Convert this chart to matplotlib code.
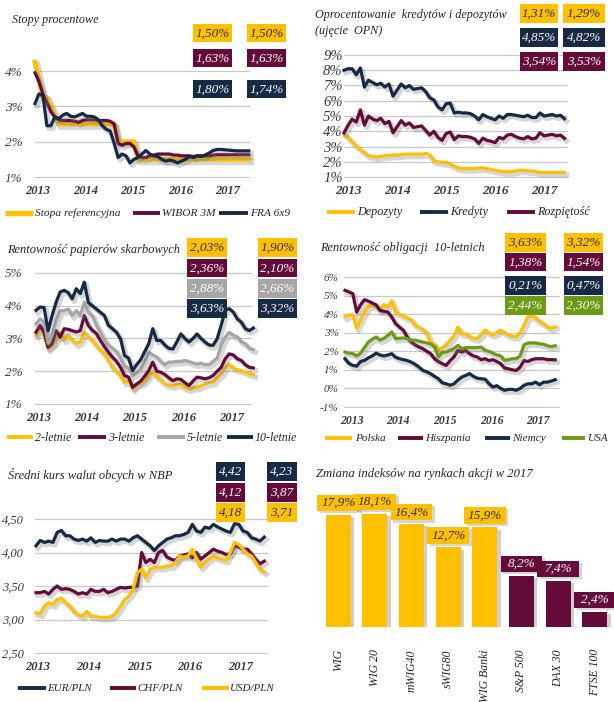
import matplotlib
matplotlib.use('Agg')
import matplotlib.pyplot as plt
import matplotlib.patheffects as pe
from matplotlib.patches import Rectangle
from matplotlib.lines import Line2D
import numpy as np

plt.rcParams['font.family'] = ['Liberation Serif', 'DejaVu Serif']
plt.rcParams['font.style'] = 'italic'
plt.rcParams['axes.unicode_minus'] = False

# ---------------- DATA (monthly, Jan 2013 .. Jul 2017) ----------------
years = ['2013', '2014', '2015', '2016', '2017']

# Panel 1: Stopy procentowe
stopa_ref = [4.25, 3.75, 3.25, 3.25, 3.00, 2.75, 2.50, 2.50, 2.50, 2.50, 2.50, 2.50,
             2.50, 2.50, 2.50, 2.50, 2.50, 2.50, 2.50, 2.50, 2.50, 2.00, 2.00, 2.00,
             2.00, 2.00, 1.50, 1.50, 1.50, 1.50, 1.50, 1.50, 1.50, 1.50, 1.50, 1.50,
             1.50, 1.50, 1.50, 1.50, 1.50, 1.50, 1.50, 1.50, 1.50, 1.50, 1.50, 1.50,
             1.50, 1.50, 1.50, 1.50, 1.50, 1.50, 1.50]
wibor3m = [3.95, 3.70, 3.35, 3.10, 2.85, 2.70, 2.62, 2.60, 2.60, 2.60, 2.58, 2.55,
           2.60, 2.62, 2.62, 2.62, 2.60, 2.60, 2.60, 2.58, 2.50, 1.95, 1.90, 1.95,
           1.95, 1.85, 1.60, 1.55, 1.55, 1.60, 1.62, 1.65, 1.65, 1.65, 1.65, 1.62,
           1.62, 1.60, 1.60, 1.60, 1.58, 1.60, 1.60, 1.60, 1.60, 1.62, 1.63, 1.63,
           1.63, 1.63, 1.63, 1.63, 1.63, 1.63, 1.63]
fra6x9 = [3.08, 3.35, 3.30, 2.45, 2.45, 2.70, 2.65, 2.75, 2.80, 2.72, 2.70, 2.75,
          2.80, 2.72, 2.72, 2.70, 2.62, 2.45, 2.35, 2.30, 1.95, 1.55, 1.65, 1.60,
          1.40, 1.50, 1.55, 1.65, 1.75, 1.65, 1.60, 1.58, 1.50, 1.45, 1.48, 1.45,
          1.40, 1.45, 1.50, 1.58, 1.55, 1.60, 1.58, 1.62, 1.68, 1.75, 1.78, 1.78,
          1.77, 1.76, 1.75, 1.74, 1.74, 1.74, 1.74]
p1_boxes = [['1,50%', '1,50%'], ['1,63%', '1,63%'], ['1,80%', '1,74%']]

# Panel 2: Oprocentowanie kredytow i depozytow
depozyty = [3.85, 3.60, 3.30, 3.05, 2.80, 2.60, 2.40, 2.35, 2.30, 2.35, 2.40, 2.40,
            2.45, 2.45, 2.45, 2.50, 2.50, 2.50, 2.50, 2.50, 2.55, 2.45, 2.05, 2.00,
            1.95, 1.95, 1.85, 1.70, 1.60, 1.55, 1.55, 1.55, 1.55, 1.60, 1.60, 1.55,
            1.50, 1.45, 1.40, 1.35, 1.35, 1.35, 1.40, 1.45, 1.45, 1.40, 1.40, 1.35,
            1.30, 1.30, 1.30, 1.30, 1.30, 1.30, 1.29]
kredyty = [8.00, 8.10, 8.10, 7.70, 8.15, 6.90, 7.35, 7.20, 7.05, 7.15, 6.90, 7.10,
           6.30, 6.70, 7.10, 6.85, 7.00, 6.75, 6.80, 6.85, 6.60, 6.20, 6.05, 5.60,
           5.40, 5.80, 5.85, 5.20, 5.25, 5.20, 5.20, 5.15, 5.00, 4.75, 5.10, 4.95,
           4.85, 4.75, 5.00, 4.85, 5.10, 5.10, 5.05, 5.00, 4.95, 5.05, 4.90, 4.90,
           5.20, 5.00, 5.05, 5.10, 5.00, 5.05, 4.82]
rozpietosc = [3.90, 4.40, 4.80, 4.60, 5.40, 4.40, 5.00, 4.80, 4.70, 4.85, 4.50, 4.65,
              3.90, 4.30, 4.70, 4.40, 4.55, 4.25, 4.30, 4.35, 4.05, 3.75, 4.00, 3.60,
              3.40, 3.85, 3.95, 3.45, 3.70, 3.65, 3.65, 3.60, 3.50, 3.20, 3.55, 3.40,
              3.35, 3.25, 3.60, 3.50, 3.75, 3.80, 3.65, 3.55, 3.50, 3.65, 3.50, 3.55,
              3.90, 3.70, 3.75, 3.80, 3.70, 3.75, 3.53]
p2_boxes = [['1,31%', '1,29%'], ['4,85%', '4,82%'], ['3,54%', '3,53%']]

# Panel 3: Rentownosc papierow skarbowych
y2 = [3.09, 3.35, 3.10, 2.68, 2.80, 2.94, 3.19, 2.95, 3.10, 2.95, 2.84, 2.90,
      3.19, 3.05, 2.95, 2.79, 2.65, 2.53, 2.33, 2.12, 2.00, 1.87, 1.66, 1.71,
      1.46, 1.60, 1.62, 1.70, 1.87, 1.97, 1.82, 1.75, 1.61, 1.58, 1.56, 1.60,
      1.60, 1.50, 1.46, 1.50, 1.51, 1.56, 1.61, 1.65, 1.66, 1.82, 1.92, 2.12,
      2.22, 2.10, 2.05, 2.02, 1.98, 1.92, 1.90]
y3 = [3.19, 3.40, 3.20, 2.73, 2.84, 3.24, 3.04, 3.30, 3.28, 3.24, 3.20, 3.24,
      3.70, 3.40, 3.25, 3.15, 2.94, 2.75, 2.58, 2.43, 2.30, 2.12, 1.87, 1.82,
      1.51, 1.61, 1.70, 1.85, 2.02, 2.28, 2.00, 1.97, 1.90, 1.80, 1.71, 1.77,
      1.75, 1.65, 1.56, 1.70, 1.82, 1.80, 1.77, 1.80, 1.87, 2.00, 2.12, 2.38,
      2.53, 2.50, 2.38, 2.33, 2.20, 2.12, 2.10]
y5 = [3.45, 3.60, 3.50, 2.85, 3.10, 3.55, 3.85, 3.85, 3.90, 3.70, 3.85, 3.70,
      4.11, 3.80, 3.70, 3.40, 3.20, 2.95, 2.80, 2.70, 2.60, 2.40, 2.15, 2.10,
      1.87, 1.95, 2.05, 2.30, 2.58, 2.50, 2.43, 2.30, 2.20, 2.28, 2.28, 2.30,
      2.30, 2.33, 2.30, 2.25, 2.22, 2.25, 2.20, 2.20, 2.30, 2.40, 2.80, 3.04,
      3.19, 3.10, 3.05, 2.90, 2.84, 2.70, 2.66]
y10 = [3.86, 3.96, 3.95, 3.24, 3.70, 4.11, 4.42, 4.47, 4.40, 4.21, 4.52, 4.37,
       4.72, 4.10, 4.00, 3.90, 3.80, 3.70, 3.40, 3.30, 3.19, 2.99, 2.48, 2.40,
       2.02, 2.20, 2.35, 2.60, 2.84, 3.30, 2.94, 2.94, 2.80, 2.70, 2.68, 2.90,
       3.14, 3.00, 2.89, 3.00, 3.14, 3.00, 2.89, 2.80, 2.79, 2.99, 3.40, 3.86,
       3.91, 3.81, 3.60, 3.50, 3.30, 3.24, 3.32]
p3_boxes = [['2,03%', '1,90%'], ['2,36%', '2,10%'], ['2,88%', '2,66%'], ['3,63%', '3,32%']]

# Panel 4: Rentownosc obligacji 10-letnich
polska = y10
hiszpania = [5.28, 5.20, 5.10, 4.11, 4.50, 4.78, 4.70, 4.60, 4.50, 4.20, 4.15, 4.11,
             3.85, 3.49, 3.30, 3.13, 2.77, 2.50, 2.35, 2.23, 2.14, 2.00, 1.87, 1.60,
             1.45, 1.33, 1.24, 1.50, 1.70, 2.05, 1.96, 2.05, 1.87, 1.75, 1.69, 1.55,
             1.60, 1.50, 1.55, 1.45, 1.33, 1.10, 1.06, 1.00, 0.97, 1.15, 1.50, 1.45,
             1.55, 1.60, 1.60, 1.60, 1.55, 1.55, 1.54]
niemcy = [1.60, 1.35, 1.24, 1.20, 1.45, 1.51, 1.65, 1.75, 1.90, 1.80, 1.75, 1.80,
          1.87, 1.68, 1.60, 1.55, 1.50, 1.42, 1.30, 1.15, 0.97, 0.90, 0.79, 0.65,
          0.52, 0.30, 0.25, 0.17, 0.25, 0.45, 0.61, 0.70, 0.80, 0.65, 0.55, 0.52,
          0.50, 0.25, 0.08, 0.15, 0.00, -0.10, -0.05, -0.05, -0.10, 0.00, 0.17, 0.25,
          0.25, 0.34, 0.20, 0.34, 0.34, 0.40, 0.47]
usa = [1.96, 1.90, 1.87, 1.75, 1.90, 2.20, 2.50, 2.65, 2.77, 2.60, 2.70, 2.85,
       3.04, 2.68, 2.70, 2.72, 2.68, 2.60, 2.60, 2.55, 2.50, 2.45, 2.40, 2.25,
       1.69, 1.95, 1.95, 2.05, 2.15, 2.32, 2.14, 2.20, 2.20, 2.20, 2.20, 2.23,
       2.05, 2.00, 1.90, 1.80, 1.75, 1.51, 1.55, 1.60, 1.60, 1.75, 2.35, 2.45,
       2.45, 2.45, 2.40, 2.38, 2.30, 2.25, 2.30]
p4_boxes = [['3,63%', '3,32%'], ['1,38%', '1,54%'], ['0,21%', '0,47%'], ['2,44%', '2,30%']]

# Panel 5: Sredni kurs walut obcych w NBP
eurpln = [4.10, 4.18, 4.15, 4.17, 4.15, 4.30, 4.33, 4.25, 4.25, 4.20, 4.18, 4.20,
          4.17, 4.22, 4.15, 4.18, 4.17, 4.17, 4.20, 4.17, 4.20, 4.20, 4.17, 4.22,
          4.25, 4.20, 4.15, 4.10, 4.03, 4.10, 4.15, 4.20, 4.22, 4.25, 4.25, 4.27,
          4.30, 4.42, 4.32, 4.30, 4.38, 4.36, 4.42, 4.38, 4.35, 4.32, 4.30, 4.43,
          4.42, 4.32, 4.30, 4.22, 4.20, 4.17, 4.23]
chfpln = [3.40, 3.40, 3.42, 3.38, 3.45, 3.50, 3.45, 3.46, 3.45, 3.42, 3.38, 3.40,
          3.38, 3.45, 3.42, 3.42, 3.45, 3.40, 3.42, 3.45, 3.48, 3.47, 3.48, 3.48,
          3.50, 4.00, 3.85, 3.90, 3.85, 4.00, 4.03, 3.93, 3.90, 3.88, 3.95, 3.96,
          3.98, 3.92, 4.00, 3.90, 3.95, 4.00, 4.05, 4.02, 4.00, 3.97, 3.98, 4.10,
          4.08, 4.05, 4.05, 3.98, 3.90, 3.83, 3.87]
usdpln = [3.10, 3.08, 3.20, 3.25, 3.22, 3.30, 3.32, 3.25, 3.20, 3.12, 3.07, 3.05,
          3.12, 3.05, 3.05, 3.03, 3.03, 3.03, 3.05, 3.10, 3.20, 3.30, 3.35, 3.45,
          3.70, 3.75, 3.62, 3.75, 3.78, 3.78, 3.78, 3.80, 3.80, 3.85, 3.95, 3.93,
          3.95, 4.05, 3.90, 3.78, 3.85, 3.90, 3.95, 3.92, 3.90, 3.88, 4.00, 4.15,
          4.12, 4.05, 3.98, 3.95, 3.85, 3.75, 3.71]
p5_boxes = [['4,42', '4,23'], ['4,12', '3,87'], ['4,18', '3,71']]

# Panel 6: Zmiana indeksow na rynkach akcji w 2017
indeksy = ['WIG', 'WIG 20', 'mWIG40', 'sWIG80', 'WIG Banki', 'S&P 500', 'DAX 30', 'FTSE 100']
zmiana = [17.9, 18.1, 16.4, 12.7, 15.9, 8.2, 7.4, 2.4]
krajowe = [True, True, True, True, True, False, False, False]

# ---------------- STYLE ----------------
YELLOW = '#FFC000'
MAROON = '#650B3A'
NAVY = '#172A45'
GRAY = '#A6A6A6'
GREEN = '#6C9A17'
TXT = '#262626'
TICK = '#3A3A3A'
GRID = '#C8C8C8'

W, H = 614, 702
fig = plt.figure(figsize=(W / 100, H / 100), dpi=100)
fig.patch.set_facecolor('white')

months = 2013 + np.arange(len(stopa_ref)) / 12.0


def axes_px(L, T, R, B):
    return fig.add_axes([L / W, 1 - B / H, (R - L) / W, (B - T) / H])


def shadow(lw):
    return [pe.SimpleLineShadow(offset=(1.5, -1.8), shadow_color='#7a7a7a', alpha=0.3,
                                linewidth=lw + 1.5), pe.Normal()]


def line_panel(L, R, S, ppy, T, B, va, ya, vb, yb, yticks, ylabels, ysize, ypad,
               xsize, tick_off, xpad):
    ax = axes_px(L, T, R, B)
    x0 = 2013 - (S - L) / ppy
    ax.set_xlim(x0, x0 + (R - L) / ppy)
    ppu = (yb - ya) / (va - vb)
    ax.set_ylim(vb - (B - yb) / ppu, va + (ya - T) / ppu)
    ax.set_yticks(yticks, ylabels)
    ax.set_xticks([int(y) + tick_off for y in years], years)
    for s in ax.spines.values():
        s.set_visible(False)
    ax.tick_params(length=0)
    ax.tick_params(axis='y', labelsize=ysize, pad=ypad, labelcolor=TICK)
    ax.tick_params(axis='x', labelsize=xsize, pad=xpad, labelcolor=TICK)
    for t in ax.get_xticklabels():
        t.set_fontweight('bold')
    ax.yaxis.grid(True, color=GRID, lw=0.9)
    ax.set_axisbelow(True)
    ax.patch.set_alpha(0)
    return ax


def plot_series(ax, series, colors, lws):
    for s, c, lw in zip(series, colors, lws):
        ax.plot(months, s, color=c, lw=lw, solid_joinstyle='round',
                path_effects=shadow(lw), clip_on=False)


def boxes(cols_x, widths, rows_y, h, texts, colors, fs=9.5):
    for r, (y, col) in enumerate(zip(rows_y, colors)):
        tc = '#2b2b2b' if col == YELLOW else 'white'
        for c, (x, w) in enumerate(zip(cols_x, widths)):
            rect = Rectangle((x / W, 1 - (y + h) / H), w / W, h / H, transform=fig.transFigure,
                             fc=col, ec='none')
            fig.add_artist(rect)
            fig.text((x + w / 2) / W, 1 - (y + h / 2 + 0.5) / H, texts[r][c], ha='center',
                     va='center', fontsize=fs, color=tc)


def legend(items, labels, colors, lws, y, fs):
    # items: (handle_x0, handle_x1, text_x) in pixels
    for (x0, x1, tx), lab, c, lw in zip(items, labels, colors, lws):
        fig.add_artist(Line2D([x0 / W, x1 / W], [1 - y / H, 1 - y / H],
                              transform=fig.transFigure, color=c, lw=lw,
                              solid_capstyle='butt'))
        fig.text(tx / W, 1 - (y + 0.5) / H, lab, ha='left', va='center', fontsize=fs,
                 color=TXT)


def title(x, y, s, fs=8.9):
    fig.text(x / W, 1 - y / H, s, ha='left', va='center', fontsize=fs, color=TXT)


# ---------------- PANEL 1 ----------------
ax1 = line_panel(35, 250, 35, 47.5, 45, 178, 4, 71, 1, 177, [1, 2, 3, 4],
                 ['1%', '2%', '3%', '4%'], 9.5, 9, 9, 0.06, 5)
plot_series(ax1, [stopa_ref, wibor3m, fra6x9], [YELLOW, MAROON, NAVY], [3.4, 2.3, 2.3])
title(12, 20, 'Stopy procentowe', 8.7)
boxes([193, 247], [39, 39], [24, 49, 80], 18, p1_boxes, [YELLOW, MAROON, NAVY])
legend([(5, 33, 35), (133, 160, 162), (219, 248, 250)],
       ['Stopa referencyjna', 'WIBOR 3M', 'FRA 6x9'], [YELLOW, MAROON, NAVY],
       [3.8, 2.8, 2.8], 213, 8.2)

# ---------------- PANEL 2 ----------------
ax2 = line_panel(344, 568, 344, 49, 50, 178, 9, 55, 1, 177, list(range(1, 10)),
                 ['%d%%' % v for v in range(1, 10)], 10.5, 1, 9.5, 0.08, 5)
plot_series(ax2, [depozyty, kredyty, rozpietosc], [YELLOW, NAVY, MAROON], [2.3, 2.3, 2.3])
title(315, 15, 'Oprocentowanie  kredytów i depozytów', 8.7)
title(315, 31, '(ujęcie  OPN)', 8.7)
boxes([520, 563], [38, 42], [4, 28, 52], 18.5, p2_boxes, [YELLOW, NAVY, MAROON])
legend([(327, 355, 357), (420, 448, 450), (507, 535, 537)],
       ['Depozyty', 'Kredyty', 'Rozpiętość'], [YELLOW, NAVY, MAROON],
       [2.8, 2.8, 2.8], 212, 8.7)

# ---------------- PANEL 3 ----------------
ax3 = line_panel(35, 252, 36, 48.3, 265, 405, 5, 273, 1, 404, [1, 2, 3, 4, 5],
                 ['1%', '2%', '3%', '4%', '5%'], 9.5, 9, 9, 0.05, 5)
plot_series(ax3, [y2, y3, y5, y10], [YELLOW, MAROON, GRAY, NAVY], [2.3, 2.3, 2.3, 2.3])
title(7, 250, 'Rentowność papierów skarbowych')
boxes([187, 258], [40, 39], [238, 259, 279, 299], 18.5, p3_boxes, [YELLOW, MAROON, GRAY, NAVY])
legend([(7, 33, 35), (78, 106, 108), (157, 185, 187), (227, 253, 255)],
       ['2-letnie', '3-letnie', '5-letnie', '10-letnie'], [YELLOW, MAROON, GRAY, NAVY],
       [2.8, 2.8, 2.8, 2.8], 437, 8.6)

# ---------------- PANEL 4 ----------------
ax4 = line_panel(344, 560, 345, 46.7, 270, 408, 6, 277, -1, 407, list(range(-1, 7)),
                 ['%d%%' % v for v in range(-1, 7)], 8, 4, 8.5, 0.14, 5)
plot_series(ax4, [polska, hiszpania, niemcy, usa], [YELLOW, MAROON, NAVY, GREEN],
            [2.3, 2.3, 2.3, 2.3])
title(320, 248, 'Rentowność obligacji  10-letnich')
boxes([505, 564], [41, 39], [233, 253, 276, 296], 18.5, p4_boxes, [YELLOW, MAROON, NAVY, GREEN])
legend([(325, 352, 355), (398, 423, 425), (485, 510, 512), (562, 585, 588)],
       ['Polska', 'Hiszpania', 'Niemcy', 'USA'], [YELLOW, MAROON, NAVY, GREEN],
       [2.8, 2.8, 2.8, 2.8], 438, 8.1)

# ---------------- PANEL 5 ----------------
ax5 = line_panel(35, 268, 36, 50.7, 505, 654, 4.5, 519, 2.5, 653, [2.5, 3.0, 3.5, 4.0, 4.5],
                 ['2,50', '3,00', '3,50', '4,00', '4,50'], 9, 8, 9, 0.04, 5)
plot_series(ax5, [eurpln, chfpln, usdpln], [NAVY, MAROON, YELLOW], [2.3, 2.3, 2.3])
title(8, 475, 'Średni kurs walut obcych w NBP', 9.0)
boxes([216, 267], [29, 30], [462, 483, 503], 19, p5_boxes, [NAVY, MAROON, YELLOW])
legend([(18, 46, 47), (110, 136, 137), (202, 229, 230)],
       ['EUR/PLN', 'CHF/PLN', 'USD/PLN'], [NAVY, MAROON, YELLOW],
       [2.8, 2.8, 2.8], 688, 7.9)

# ---------------- PANEL 6 ----------------
ax6 = axes_px(320, 480, 613, 627)
ax6.set_xlim(-0.5, 7.5)
ax6.set_ylim(0, (627 - 480) / 6.26)
xpos = np.arange(len(zmiana))
bcol = [YELLOW if k else MAROON for k in krajowe]
bars = ax6.bar(xpos, zmiana, width=0.68, color=bcol)
for b in bars:
    b.set_path_effects([pe.SimplePatchShadow(offset=(2.5, -1.5), shadow_rgbFace='#777777',
                                             alpha=0.35), pe.Normal()])
for xi, v, c in zip(xpos, zmiana, bcol):
    bw, bh = 1.14, 2.6
    r = Rectangle((xi - bw / 2, v + 0.62), bw, bh, fc=c, ec='none', clip_on=False)
    r.set_path_effects([pe.SimplePatchShadow(offset=(2, -1.5), shadow_rgbFace='#777777',
                                             alpha=0.3), pe.Normal()])
    ax6.add_patch(r)
    ax6.text(xi, v + 0.62 + bh / 2, ('%.1f%%' % v).replace('.', ','), ha='center',
             va='center', fontsize=9.5, color='#2b2b2b' if c == YELLOW else 'white')
ax6.set_xticks(xpos, indeksy, rotation=90, va='top', ha='center')
ax6.tick_params(length=0, axis='x', labelsize=8.5, pad=16, labelcolor=TXT)
ax6.set_yticks([])
for s in ax6.spines.values():
    s.set_visible(False)
ax6.patch.set_alpha(0)
title(316, 474, 'Zmiana indeksów na rynkach akcji w 2017', 9.1)

fig.savefig('out.png', dpi=100, facecolor='white')
